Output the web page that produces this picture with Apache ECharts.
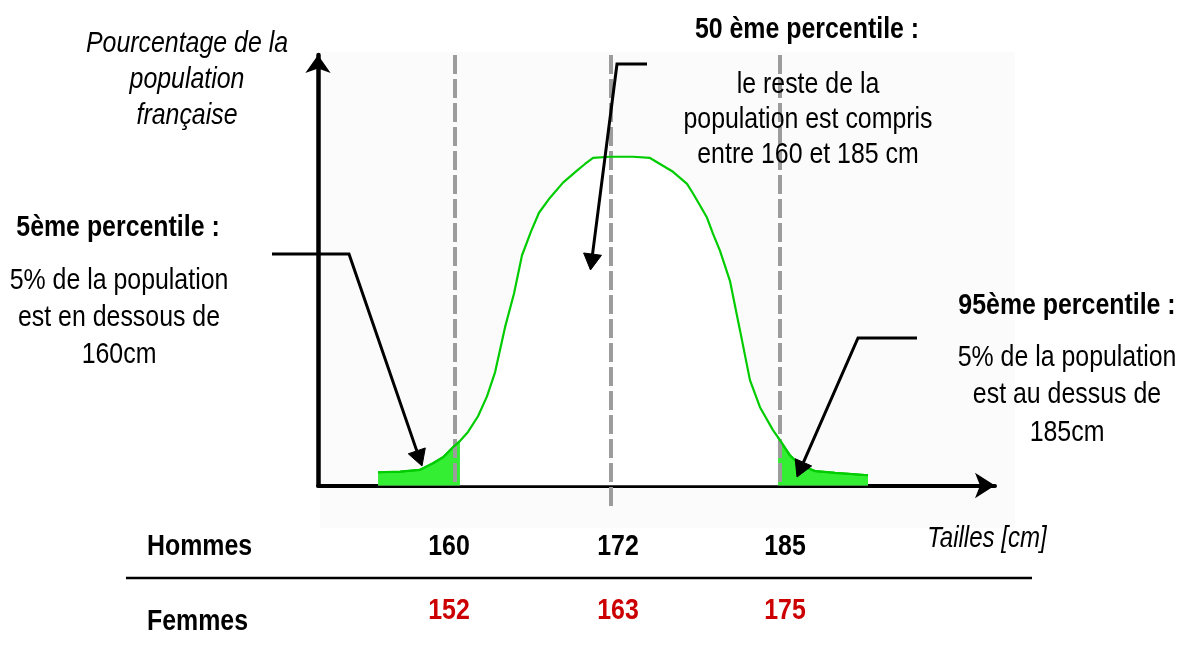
<!DOCTYPE html>
<html>
<head>
<meta charset="utf-8">
<script src="https://cdn.jsdelivr.net/npm/echarts@6/dist/echarts.min.js"></script>
<style>
html,body{margin:0;padding:0;background:#fff;}
#main{width:1187px;height:650px;}
</style>
</head>
<body>
<div id="main"></div>
<script>
// ---- Data ----
// Heights in cm (x) and share of the population in % per cm (y) along the green curve
const tailles = [154.08,155.77,157.31,158.31,159.08,159.77,160.38,161.0,161.77,162.46,163.08,163.85,164.54,165.15,165.85,166.46,167.31,168.31,169.38,170.0,170.62,171.92,173.69,175.0,175.77,176.77,177.85,178.31,178.85,179.38,179.85,180.38,181.15,181.92,182.69,183.46,184.46,184.85,185.77,186.54,187.69,189.23,191.77];
const pourcentages = [0.22,0.23,0.26,0.37,0.47,0.62,0.74,0.89,1.15,1.48,1.88,2.63,3.19,3.82,4.22,4.53,4.78,5.03,5.23,5.34,5.44,5.46,5.46,5.44,5.34,5.21,5.01,4.85,4.65,4.45,4.18,3.90,3.40,2.58,1.75,1.30,0.92,0.80,0.50,0.34,0.24,0.21,0.17];
// Percentiles (5e, 50e, 95e)
const percentilesHommes = [160, 172, 185];
const percentilesFemmes = [152, 163, 175];
const rowLabels = ['Hommes', 'Femmes'];
const axisTitleY = 'Pourcentage de la\npopulation\nfrançaise';
const axisTitleX = 'Tailles [cm]';

// ---- Build series from data ----
const points = tailles.map((t, i) => [t, pourcentages[i]]);
const queueGauche = points.filter(p => p[0] <= percentilesHommes[0] + 0.4);
const queueDroite = points.filter(p => p[0] >= percentilesHommes[2] - 0.2);

const FONT = '"Liberation Sans", Arial, sans-serif';
const NARROW = 0.83;
const GREEN = '#00cc00';
const FILL = '#33ee33';

const chart = echarts.init(document.getElementById('main'), null, {renderer: 'canvas'});

const dashedSeries = percentilesHommes.map((v, i) => ({
  type: 'line',
  data: [[v, 7.15], [v, i === 1 ? -0.37 : -0.02]],
  showSymbol: false,
  symbol: 'none',
  clip: false,
  silent: true,
  z: 3,
  lineStyle: {color: '#9c9c9c', width: 4, type: [19, 5]},
  animation: false
}));

function txt(text, x, y, opts) {
  return {
    type: 'text',
    x: x, y: y,
    scaleX: NARROW,
    silent: true,
    z: 10,
    style: Object.assign({
      text: text,
      fontFamily: FONT,
      fontSize: 30,
      fill: '#000',
      align: 'center',
      verticalAlign: 'middle',
      lineHeight: 37
    }, opts || {})
  };
}

function arrow(pts, tip, lw) {
  const last = pts[pts.length - 1];
  const dx = tip[0] - last[0], dy = tip[1] - last[1];
  const len = Math.sqrt(dx * dx + dy * dy);
  const ux = dx / len, uy = dy / len;
  const L = 16, W = 9;
  const bx = tip[0] - L * ux, by = tip[1] - L * uy;
  const px = -uy * W, py = ux * W;
  return [
    {type: 'polyline', silent: true, z: 8, shape: {points: pts.concat([[bx, by]])},
     style: {stroke: '#000', lineWidth: lw || 3, fill: null}},
    {type: 'polygon', silent: true, z: 8, shape: {points: [tip, [bx + px, by + py], [bx - px, by - py]]},
     style: {fill: '#000', stroke: '#000', lineWidth: 1}}
  ];
}

const graphics = [
  {type: 'rect', silent: true, z: -10, shape: {x: 320, y: 52, width: 695, height: 476}, style: {fill: '#fbfbfb'}},
  // axis titles
  txt(axisTitleY, 187, 80, {fontStyle: 'italic', lineHeight: 36}),
  txt(axisTitleX, 987, 539, {fontStyle: 'italic', fontSize: 29}),
  // annotations
  txt('50 ème percentile :', 807, 30, {fontWeight: 'bold'}),
  txt('le reste de la\npopulation est compris\nentre 160 et 185 cm', 808, 120, {lineHeight: 35}),
  txt('5ème percentile :', 118, 228, {fontWeight: 'bold'}),
  txt('5% de la population\nest en dessous de\n160cm', 119, 318, {lineHeight: 37}),
  txt('95ème percentile :', 1067, 306, {fontWeight: 'bold'}),
  txt('5% de la population\nest au dessus de\n185cm', 1067, 395, {lineHeight: 37.5}),
  // table
  txt(rowLabels[0], 147, 547, {fontWeight: 'bold', align: 'left'}),
  txt(rowLabels[1], 147, 622, {fontWeight: 'bold', align: 'left'}),
  {type: 'line', silent: true, z: 8, shape: {x1: 126, y1: 578, x2: 1032, y2: 578}, style: {stroke: '#000', lineWidth: 2.5}}
].concat(
  arrow([[272, 254], [349, 254]], [422, 466]),
  arrow([[647, 64], [617, 64]], [590.5, 270]),
  arrow([[917, 338], [858, 338]], [797, 477])
);

const tableX = [449, 618, 785];
percentilesHommes.forEach((v, i) => graphics.push(txt(String(v), tableX[i], 547, {fontWeight: 'bold'})));
percentilesFemmes.forEach((v, i) => graphics.push(txt(String(v), tableX[i], 611, {fontWeight: 'bold', fill: '#cc0000'})));

chart.setOption({
  animation: false,
  backgroundColor: '#ffffff',
  grid: {left: 318, right: 192, top: 55, bottom: 164.5, containLabel: false},
  xAxis: {
    type: 'value', min: 149.46, max: 201.54,
    axisLine: {show: true, onZero: false, symbol: ['none', 'arrow'], symbolSize: [19, 20],
               lineStyle: {color: '#000', width: 4}},
    axisTick: {show: false}, axisLabel: {show: false}, splitLine: {show: false}
  },
  yAxis: {
    type: 'value', min: 0, max: 7.15,
    axisLine: {show: true, onZero: false, symbol: ['none', 'arrow'], symbolSize: [19, 18],
               lineStyle: {color: '#000', width: 4.5}},
    axisTick: {show: false}, axisLabel: {show: false}, splitLine: {show: false}
  },
  series: [
    {type: 'line', name: 'fond', data: points, showSymbol: false, symbol: 'none', silent: true, z: 1,
     lineStyle: {width: 0, opacity: 0}, areaStyle: {color: '#ffffff', opacity: 1}},
    {type: 'line', name: 'queue gauche', data: queueGauche, showSymbol: false, symbol: 'none', silent: true, z: 2,
     lineStyle: {color: GREEN, width: 2}, areaStyle: {color: FILL, opacity: 1}},
    {type: 'line', name: 'queue droite', data: queueDroite, showSymbol: false, symbol: 'none', silent: true, z: 2,
     lineStyle: {color: GREEN, width: 2}, areaStyle: {color: FILL, opacity: 1}}
  ].concat(dashedSeries, [
    {type: 'line', name: 'courbe', data: points, showSymbol: false, symbol: 'none', silent: true, z: 4,
     lineStyle: {color: GREEN, width: 2.2}}
  ]),
  graphic: graphics
});
</script>
</body>
</html>
